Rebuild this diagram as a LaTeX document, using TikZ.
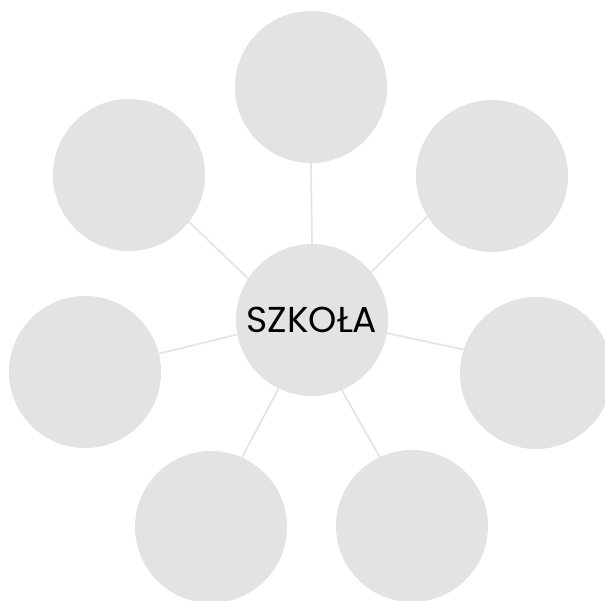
\documentclass[tikz,border=0pt]{standalone}
\usepackage{fontspec}
\setmainfont{Poppins}
\begin{document}
\begin{tikzpicture}[x=1pt,y=-1pt,
  bubble/.style={circle,fill=bubblegray,minimum size=152pt,inner sep=0pt},
  spoke/.style={draw=linegray,line width=1.7pt}]
\definecolor{bubblegray}{HTML}{E3E3E3}
\definecolor{linegray}{HTML}{E4E4E4}
\useasboundingbox (0,0) rectangle (605,601);
\clip (0,0) rectangle (605,601);
\node[bubble] (c) at (312,320) {\fontsize{36}{40}\selectfont SZKOŁA};
\node[bubble] (t) at (311,87) {};
\node[bubble] (ul) at (129,175) {};
\node[bubble] (ur) at (492,176) {};
\node[bubble] (l) at (85,372) {};
\node[bubble] (r) at (536,373) {};
\node[bubble] (bl) at (211,527) {};
\node[bubble] (br) at (412,526) {};
\draw[spoke] (c.90) -- (t.south);
\draw[spoke] (c.147.5) -- (ul.-38);
\draw[spoke] (c.39.2) -- (ur.212.6);
\draw[spoke] (c.191.4) -- (l.14.7);
\draw[spoke] (c.-10.1) -- (r.162.7);
\draw[spoke] (c.244.6) -- (bl.66.9);
\draw[spoke] (c.-67.7) -- (br.115);
\end{tikzpicture}
\end{document}
